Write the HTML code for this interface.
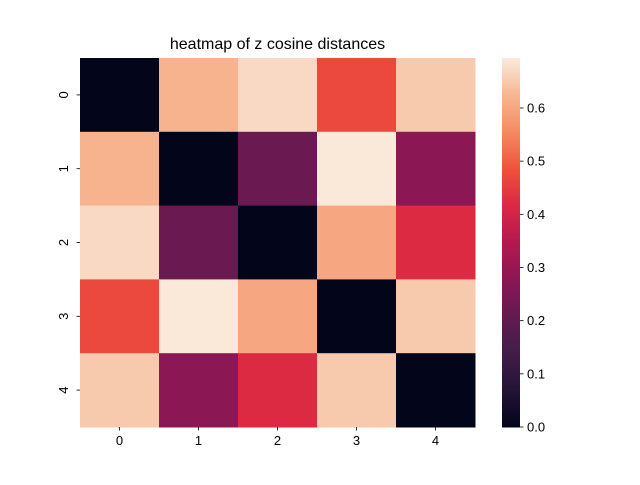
<!DOCTYPE html>
<html><head><meta charset="utf-8"><style>
body{margin:0;background:#fff}
svg{font-family:"Liberation Sans","DejaVu Sans",sans-serif}
</style></head><body>
<svg id="chart" width="640" height="480" xmlns="http://www.w3.org/2000/svg">
<rect width="640" height="480" fill="#fff"/>
<text x="277.5" y="49" font-size="16" text-anchor="middle" fill="#000">heatmap of z cosine distances</text>
<g id="cells"></g><g id="cbar"></g><g id="ticks"></g>
</svg>
<script>
const rowLabels=["0","1","2","3","4"];
const colLabels=["0","1","2","3","4"];
const row0=[0.00,0.62,0.67,0.47,0.65];
const row1=[0.62,0.00,0.22,0.69,0.28];
const row2=[0.67,0.22,0.00,0.60,0.42];
const row3=[0.47,0.69,0.60,0.00,0.65];
const row4=[0.65,0.28,0.42,0.65,0.00];
const values=[row0,row1,row2,row3,row4];
const cbarTicks=[0.0,0.1,0.2,0.3,0.4,0.5,0.6];
const vmin=0, vmax=0.694;
const NS="http://www.w3.org/2000/svg";
const X0=80,X1=475,Y0=58,Y1=427,CB0=502,CB1=520;
const stops=[[0,3,5,26],[0.1,35,19,54],[0.2,65,29,74],[0.3,99,26,80],[0.4,138,23,84],[0.5,181,24,80],[0.6,220,40,67],[0.7,239,82,60],[0.8,245,138,98],[0.9,246,182,145],[1,250,235,221]];
function cmap(t){t=Math.max(0,Math.min(1,t));for(let i=1;i<stops.length;i++){if(t<=stops[i][0]){const a=stops[i-1],b=stops[i],f=(t-a[0])/(b[0]-a[0]);return `rgb(${[1,2,3].map(k=>Math.round(a[k]+f*(b[k]-a[k]))).join(",")})`;}}return "rgb(250,235,221)";}
const xs=i=>X0+i*(X1-X0)/colLabels.length;
const ys=i=>Y0+i*(Y1-Y0)/rowLabels.length;
const cy=v=>Y1-(v-vmin)/(vmax-vmin)*(Y1-Y0);
function mk(tag,attrs,parent){const e=document.createElementNS(NS,tag);for(const k in attrs)e.setAttribute(k,attrs[k]);parent.appendChild(e);return e;}
const cells=document.getElementById("cells"),cb=document.getElementById("cbar"),tk=document.getElementById("ticks");
values.forEach((row,r)=>row.forEach((v,c)=>{
 const e=mk("rect",{x:xs(c),y:ys(r),width:xs(c+1)-xs(c)+0.5,height:ys(r+1)-ys(r)+0.5,fill:cmap((v-vmin)/(vmax-vmin))},cells);
 
 
}));
for(let y=Y0;y<Y1;y++){mk("rect",{x:CB0,y:y,width:CB1-CB0,height:1.5,fill:cmap((Y1-y-0.5)/(Y1-Y0))},cb);}
cbarTicks.forEach(t=>{
 const y=cy(t);
 mk("line",{x1:CB1,x2:CB1+3.5,y1:y,y2:y,stroke:"#000","stroke-width":0.8},tk);
 const e=mk("text",{x:CB1+7,y:y+4.5,"font-size":"13",fill:"#000"},tk);e.textContent=t.toFixed(1);
 
 
});
colLabels.forEach((l,i)=>{
 const x=(xs(i)+xs(i+1))/2;
 mk("line",{x1:x,x2:x,y1:Y1,y2:Y1+3.5,stroke:"#000","stroke-width":0.8},tk);
 const e=mk("text",{x:x,y:Y1+18,"font-size":"13","text-anchor":"middle",fill:"#000"},tk);e.textContent=l;
 
 
});
rowLabels.forEach((l,i)=>{
 const y=(ys(i)+ys(i+1))/2;
 mk("line",{x1:X0-3.5,x2:X0,y1:y,y2:y,stroke:"#000","stroke-width":0.8},tk);
 const e=mk("text",{x:X0-12,y:y,"font-size":"13","text-anchor":"middle",fill:"#000",transform:`rotate(-90 ${X0-12} ${y})`},tk);e.textContent=l;
 
 
});
</script>
</body></html>
